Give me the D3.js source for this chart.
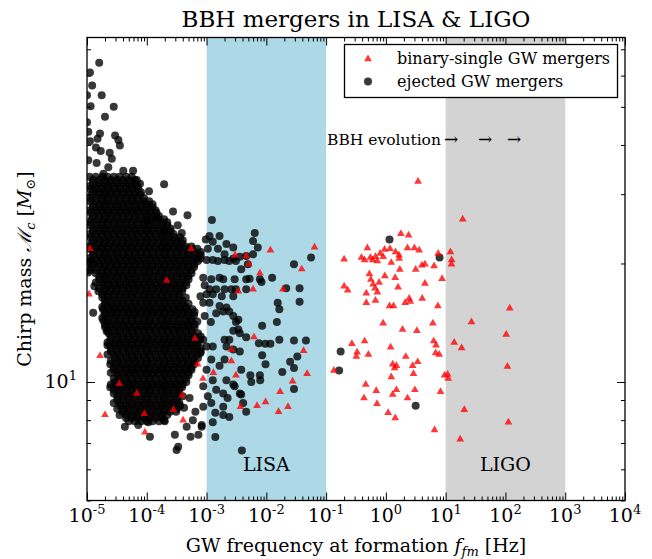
<!DOCTYPE html>
<html>
<head>
<meta charset="utf-8">
<script src="https://cdn.jsdelivr.net/npm/d3@7"></script>
<style>
  body { margin: 0; background: #fff; }
  svg { display: block; font-family: "DejaVu Serif", serif; }
</style>
</head>
<body>
<div id="chart"></div>
<script>
// ejected GW mergers, dense part: [chirp mass, [frequencies (Hz)]]
const ejectedCore = [
  [33.2, [1.1e-5,1.4e-5,1.8e-5,2.2e-5,2.8e-5,3.5e-5,4.5e-5,5.6e-5]],
  [32.6, [1.25e-5,1.6e-5,2e-5,2.5e-5,3.2e-5,4e-5,5e-5,6.3e-5]],
  [32.0, [1.25e-5,1.6e-5,2e-5,2.5e-5,3.2e-5,4e-5,5e-5,6.3e-5]],
  [31.45, [1.1e-5,1.4e-5,1.8e-5,2.2e-5,2.8e-5,3.5e-5,4.5e-5,5.6e-5,7e-5]],
  [30.9, [1.15e-5,1.45e-5,1.85e-5,2.3e-5,2.9e-5,3.6e-5,4.6e-5,5.8e-5,7.2e-5]],
  [30.35, [1.25e-5,1.6e-5,2e-5,2.5e-5,3.2e-5,4e-5,5e-5,6.3e-5,8e-5]],
  [29.9, [1.2e-5,1.55e-5,1.95e-5,2.45e-5,3.1e-5,3.9e-5,4.9e-5,6.2e-5,7.8e-5]],
  [29.35, [1.1e-5,1.4e-5,1.8e-5,2.2e-5,2.8e-5,3.5e-5,4.5e-5,5.6e-5,7e-5,9e-5]],
  [28.8, [1.1e-5,1.4e-5,1.8e-5,2.2e-5,2.8e-5,3.5e-5,4.5e-5,5.6e-5,7e-5,9e-5,1.1e-4]],
  [28.3, [1.25e-5,1.6e-5,2e-5,2.5e-5,3.2e-5,4e-5,5e-5,6.3e-5,8e-5,1e-4,1.25e-4]],
  [27.8, [1.25e-5,1.6e-5,2e-5,2.5e-5,3.2e-5,4e-5,5e-5,6.3e-5,8e-5,1e-4,1.25e-4]],
  [27.3, [1.1e-5,1.4e-5,1.8e-5,2.2e-5,2.8e-5,3.5e-5,4.5e-5,5.6e-5,7e-5,9e-5,1.1e-4,1.4e-4]],
  [26.9, [1.15e-5,1.45e-5,1.85e-5,2.3e-5,2.9e-5,3.6e-5,4.6e-5,5.8e-5,7.2e-5,9.2e-5,1.15e-4,1.45e-4]],
  [26.4, [1.25e-5,1.6e-5,2e-5,2.5e-5,3.2e-5,4e-5,5e-5,6.3e-5,8e-5,1e-4,1.25e-4,1.6e-4]],
  [25.9, [1.2e-5,1.55e-5,1.95e-5,2.45e-5,3.1e-5,3.9e-5,4.9e-5,6.2e-5,7.8e-5,9.8e-5,1.2e-4,1.55e-4,1.95e-4]],
  [25.45, [1.1e-5,1.4e-5,1.8e-5,2.2e-5,2.8e-5,3.5e-5,4.5e-5,5.6e-5,7e-5,9e-5,1.1e-4,1.4e-4,1.8e-4,2.2e-4]],
  [25.0, [1.1e-5,1.4e-5,1.8e-5,2.2e-5,2.8e-5,3.5e-5,4.5e-5,5.6e-5,7e-5,9e-5,1.1e-4,1.4e-4,1.8e-4,2.2e-4]],
  [24.55, [1.25e-5,1.6e-5,2e-5,2.5e-5,3.2e-5,4e-5,5e-5,6.3e-5,8e-5,1e-4,1.25e-4,1.6e-4,2e-4,2.5e-4]],
  [24.2, [1.25e-5,1.6e-5,2e-5,2.5e-5,3.2e-5,4e-5,5e-5,6.3e-5,8e-5,1e-4,1.25e-4,1.6e-4,2e-4,2.5e-4]],
  [23.75, [1.1e-5,1.4e-5,1.8e-5,2.2e-5,2.8e-5,3.5e-5,4.5e-5,5.6e-5,7e-5,9e-5,1.1e-4,1.4e-4,1.8e-4,2.2e-4,2.8e-4]],
  [23.3, [1.15e-5,1.45e-5,1.85e-5,2.3e-5,2.9e-5,3.6e-5,4.6e-5,5.8e-5,7.2e-5,9.2e-5,1.15e-4,1.45e-4,1.85e-4,2.3e-4,2.9e-4,3.6e-4]],
  [22.9, [1.25e-5,1.6e-5,2e-5,2.5e-5,3.2e-5,4e-5,5e-5,6.3e-5,8e-5,1e-4,1.25e-4,1.6e-4,2e-4,2.5e-4,3.2e-4,4e-4]],
  [22.5, [1.2e-5,1.55e-5,1.95e-5,2.45e-5,3.1e-5,3.9e-5,4.9e-5,6.2e-5,7.8e-5,9.8e-5,1.2e-4,1.55e-4,1.95e-4,2.45e-4,3.1e-4,3.9e-4]],
  [22.1, [1.1e-5,1.4e-5,1.8e-5,2.2e-5,2.8e-5,3.5e-5,4.5e-5,5.6e-5,7e-5,9e-5,1.1e-4,1.4e-4,1.8e-4,2.2e-4,2.8e-4,3.5e-4,4.5e-4,5.6e-4]],
  [21.8, [1.1e-5,1.4e-5,1.8e-5,2.2e-5,2.8e-5,3.5e-5,4.5e-5,5.6e-5,7e-5,9e-5,1.1e-4,1.4e-4,1.8e-4,2.2e-4,2.8e-4,3.5e-4,4.5e-4,5.6e-4,7e-4]],
  [21.4, [1.25e-5,1.6e-5,2e-5,2.5e-5,3.2e-5,4e-5,5e-5,6.3e-5,8e-5,1e-4,1.25e-4,1.6e-4,2e-4,2.5e-4,3.2e-4,4e-4,5e-4,6.3e-4,8e-4]],
  [21.0, [1.25e-5,1.6e-5,2e-5,2.5e-5,3.2e-5,4e-5,5e-5,6.3e-5,8e-5,1e-4,1.25e-4,1.6e-4,2e-4,2.5e-4,3.2e-4,4e-4,5e-4,6.3e-4,8e-4]],
  [20.65, [1.1e-5,1.4e-5,1.8e-5,2.2e-5,2.8e-5,3.5e-5,4.5e-5,5.6e-5,7e-5,9e-5,1.1e-4,1.4e-4,1.8e-4,2.2e-4,2.8e-4,3.5e-4,4.5e-4,5.6e-4,7e-4]],
  [20.3, [1.15e-5,1.45e-5,1.85e-5,2.3e-5,2.9e-5,3.6e-5,4.6e-5,5.8e-5,7.2e-5,9.2e-5,1.15e-4,1.45e-4,1.85e-4,2.3e-4,2.9e-4,3.6e-4,4.6e-4,5.8e-4,7.2e-4]],
  [19.95, [1.25e-5,1.6e-5,2e-5,2.5e-5,3.2e-5,4e-5,5e-5,6.3e-5,8e-5,1e-4,1.25e-4,1.6e-4,2e-4,2.5e-4,3.2e-4,4e-4,5e-4,6.3e-4]],
  [19.6, [1.2e-5,1.55e-5,1.95e-5,2.45e-5,3.1e-5,3.9e-5,4.9e-5,6.2e-5,7.8e-5,9.8e-5,1.2e-4,1.55e-4,1.95e-4,2.45e-4,3.1e-4,3.9e-4,4.9e-4,6.2e-4]],
  [19.25, [1.1e-5,1.4e-5,1.8e-5,2.2e-5,2.8e-5,3.5e-5,4.5e-5,5.6e-5,7e-5,9e-5,1.1e-4,1.4e-4,1.8e-4,2.2e-4,2.8e-4,3.5e-4,4.5e-4,5.6e-4]],
  [18.9, [1.4e-5,1.8e-5,2.2e-5,2.8e-5,3.5e-5,4.5e-5,5.6e-5,7e-5,9e-5,1.1e-4,1.4e-4,1.8e-4,2.2e-4,2.8e-4,3.5e-4,4.5e-4,5.6e-4]],
  [18.55, [1.6e-5,2e-5,2.5e-5,3.2e-5,4e-5,5e-5,6.3e-5,8e-5,1e-4,1.25e-4,1.6e-4,2e-4,2.5e-4,3.2e-4,4e-4,5e-4]],
  [18.2, [1.6e-5,2e-5,2.5e-5,3.2e-5,4e-5,5e-5,6.3e-5,8e-5,1e-4,1.25e-4,1.6e-4,2e-4,2.5e-4,3.2e-4,4e-4,5e-4]],
  [17.9, [1.4e-5,1.8e-5,2.2e-5,2.8e-5,3.5e-5,4.5e-5,5.6e-5,7e-5,9e-5,1.1e-4,1.4e-4,1.8e-4,2.2e-4,2.8e-4,3.5e-4,4.5e-4]],
  [17.6, [1.85e-5,2.3e-5,2.9e-5,3.6e-5,4.6e-5,5.8e-5,7.2e-5,9.2e-5,1.15e-4,1.45e-4,1.85e-4,2.3e-4,2.9e-4,3.6e-4,4.6e-4]],
  [17.3, [1.6e-5,2e-5,2.5e-5,3.2e-5,4e-5,5e-5,6.3e-5,8e-5,1e-4,1.25e-4,1.6e-4,2e-4,2.5e-4,3.2e-4,4e-4]],
  [17.0, [1.55e-5,1.95e-5,2.45e-5,3.1e-5,3.9e-5,4.9e-5,6.2e-5,7.8e-5,9.8e-5,1.2e-4,1.55e-4,1.95e-4,2.45e-4,3.1e-4,3.9e-4]],
  [16.7, [1.8e-5,2.2e-5,2.8e-5,3.5e-5,4.5e-5,5.6e-5,7e-5,9e-5,1.1e-4,1.4e-4,1.8e-4,2.2e-4,2.8e-4,3.5e-4]],
  [16.4, [1.8e-5,2.2e-5,2.8e-5,3.5e-5,4.5e-5,5.6e-5,7e-5,9e-5,1.1e-4,1.4e-4,1.8e-4,2.2e-4,2.8e-4,3.5e-4,4.5e-4]],
  [16.1, [2e-5,2.5e-5,3.2e-5,4e-5,5e-5,6.3e-5,8e-5,1e-4,1.25e-4,1.6e-4,2e-4,2.5e-4,3.2e-4,4e-4]],
  [15.8, [2e-5,2.5e-5,3.2e-5,4e-5,5e-5,6.3e-5,8e-5,1e-4,1.25e-4,1.6e-4,2e-4,2.5e-4,3.2e-4,4e-4,5e-4]],
  [15.5, [1.8e-5,2.2e-5,2.8e-5,3.5e-5,4.5e-5,5.6e-5,7e-5,9e-5,1.1e-4,1.4e-4,1.8e-4,2.2e-4,2.8e-4,3.5e-4,4.5e-4]],
  [15.3, [1.85e-5,2.3e-5,2.9e-5,3.6e-5,4.6e-5,5.8e-5,7.2e-5,9.2e-5,1.15e-4,1.45e-4,1.85e-4,2.3e-4,2.9e-4,3.6e-4,4.6e-4,5.8e-4]],
  [15.05, [2e-5,2.5e-5,3.2e-5,4e-5,5e-5,6.3e-5,8e-5,1e-4,1.25e-4,1.6e-4,2e-4,2.5e-4,3.2e-4,4e-4,5e-4,6.3e-4]],
  [14.8, [1.95e-5,2.45e-5,3.1e-5,3.9e-5,4.9e-5,6.2e-5,7.8e-5,9.8e-5,1.2e-4,1.55e-4,1.95e-4,2.45e-4,3.1e-4,3.9e-4,4.9e-4,6.2e-4]],
  [14.55, [1.8e-5,2.2e-5,2.8e-5,3.5e-5,4.5e-5,5.6e-5,7e-5,9e-5,1.1e-4,1.4e-4,1.8e-4,2.2e-4,2.8e-4,3.5e-4,4.5e-4,5.6e-4]],
  [14.25, [2.2e-5,2.8e-5,3.5e-5,4.5e-5,5.6e-5,7e-5,9e-5,1.1e-4,1.4e-4,1.8e-4,2.2e-4,2.8e-4,3.5e-4,4.5e-4,5.6e-4,7e-4]],
  [14.0, [2e-5,2.5e-5,3.2e-5,4e-5,5e-5,6.3e-5,8e-5,1e-4,1.25e-4,1.6e-4,2e-4,2.5e-4,3.2e-4,4e-4,5e-4,6.3e-4]],
  [13.8, [2e-5,2.5e-5,3.2e-5,4e-5,5e-5,6.3e-5,8e-5,1e-4,1.25e-4,1.6e-4,2e-4,2.5e-4,3.2e-4,4e-4,5e-4,6.3e-4]],
  [13.55, [2.2e-5,2.8e-5,3.5e-5,4.5e-5,5.6e-5,7e-5,9e-5,1.1e-4,1.4e-4,1.8e-4,2.2e-4,2.8e-4,3.5e-4,4.5e-4,5.6e-4]],
  [13.3, [2.3e-5,2.9e-5,3.6e-5,4.6e-5,5.8e-5,7.2e-5,9.2e-5,1.15e-4,1.45e-4,1.85e-4,2.3e-4,2.9e-4,3.6e-4,4.6e-4,5.8e-4,7.2e-4]],
  [13.05, [2.5e-5,3.2e-5,4e-5,5e-5,6.3e-5,8e-5,1e-4,1.25e-4,1.6e-4,2e-4,2.5e-4,3.2e-4,4e-4,5e-4,6.3e-4,8e-4]],
  [12.8, [2.45e-5,3.1e-5,3.9e-5,4.9e-5,6.2e-5,7.8e-5,9.8e-5,1.2e-4,1.55e-4,1.95e-4,2.45e-4,3.1e-4,3.9e-4,4.9e-4,6.2e-4,7.8e-4]],
  [12.6, [2.2e-5,2.8e-5,3.5e-5,4.5e-5,5.6e-5,7e-5,9e-5,1.1e-4,1.4e-4,1.8e-4,2.2e-4,2.8e-4,3.5e-4,4.5e-4,5.6e-4,7e-4]],
  [12.4, [2.2e-5,2.8e-5,3.5e-5,4.5e-5,5.6e-5,7e-5,9e-5,1.1e-4,1.4e-4,1.8e-4,2.2e-4,2.8e-4,3.5e-4,4.5e-4,5.6e-4,7e-4]],
  [12.2, [2.5e-5,3.2e-5,4e-5,5e-5,6.3e-5,8e-5,1e-4,1.25e-4,1.6e-4,2e-4,2.5e-4,3.2e-4,4e-4,5e-4,6.3e-4,8e-4]],
  [11.95, [2.5e-5,3.2e-5,4e-5,5e-5,6.3e-5,8e-5,1e-4,1.25e-4,1.6e-4,2e-4,2.5e-4,3.2e-4,4e-4,5e-4,6.3e-4,8e-4]],
  [11.75, [2.2e-5,2.8e-5,3.5e-5,4.5e-5,5.6e-5,7e-5,9e-5,1.1e-4,1.4e-4,1.8e-4,2.2e-4,2.8e-4,3.5e-4,4.5e-4,5.6e-4,7e-4]],
  [11.5, [2.9e-5,3.6e-5,4.6e-5,5.8e-5,7.2e-5,9.2e-5,1.15e-4,1.45e-4,1.85e-4,2.3e-4,2.9e-4,3.6e-4,4.6e-4,5.8e-4,7.2e-4]],
  [11.3, [2.5e-5,3.2e-5,4e-5,5e-5,6.3e-5,8e-5,1e-4,1.25e-4,1.6e-4,2e-4,2.5e-4,3.2e-4,4e-4,5e-4,6.3e-4]],
  [11.1, [2.45e-5,3.1e-5,3.9e-5,4.9e-5,6.2e-5,7.8e-5,9.8e-5,1.2e-4,1.55e-4,1.95e-4,2.45e-4,3.1e-4,3.9e-4,4.9e-4,6.2e-4]],
  [10.9, [2.8e-5,3.5e-5,4.5e-5,5.6e-5,7e-5,9e-5,1.1e-4,1.4e-4,1.8e-4,2.2e-4,2.8e-4,3.5e-4,4.5e-4,5.6e-4]],
  [10.75, [2.8e-5,3.5e-5,4.5e-5,5.6e-5,7e-5,9e-5,1.1e-4,1.4e-4,1.8e-4,2.2e-4,2.8e-4,3.5e-4,4.5e-4,5.6e-4]],
  [10.55, [2.5e-5,3.2e-5,4e-5,5e-5,6.3e-5,8e-5,1e-4,1.25e-4,1.6e-4,2e-4,2.5e-4,3.2e-4,4e-4,5e-4]],
  [10.4, [3.2e-5,4e-5,5e-5,6.3e-5,8e-5,1e-4,1.25e-4,1.6e-4,2e-4,2.5e-4,3.2e-4,4e-4,5e-4]],
  [10.2, [2.8e-5,3.5e-5,4.5e-5,5.6e-5,7e-5,9e-5,1.1e-4,1.4e-4,1.8e-4,2.2e-4,2.8e-4,3.5e-4,4.5e-4]],
  [10.0, [2.9e-5,3.6e-5,4.6e-5,5.8e-5,7.2e-5,9.2e-5,1.15e-4,1.45e-4,1.85e-4,2.3e-4,2.9e-4,3.6e-4,4.6e-4]],
  [9.85, [2.5e-5,3.2e-5,4e-5,5e-5,6.3e-5,8e-5,1e-4,1.25e-4,1.6e-4,2e-4,2.5e-4,3.2e-4,4e-4]],
  [9.7, [2.45e-5,3.1e-5,3.9e-5,4.9e-5,6.2e-5,7.8e-5,9.8e-5,1.2e-4,1.55e-4,1.95e-4,2.45e-4,3.1e-4,3.9e-4]],
  [9.55, [2.8e-5,3.5e-5,4.5e-5,5.6e-5,7e-5,9e-5,1.1e-4,1.4e-4,1.8e-4,2.2e-4,2.8e-4,3.5e-4]],
  [9.35, [2.8e-5,3.5e-5,4.5e-5,5.6e-5,7e-5,9e-5,1.1e-4,1.4e-4,1.8e-4,2.2e-4,2.8e-4,3.5e-4]],
  [9.2, [3.2e-5,4e-5,5e-5,6.3e-5,8e-5,1e-4,1.25e-4,1.6e-4,2e-4,2.5e-4,3.2e-4,4e-4]],
  [9.0, [3.2e-5,4e-5,5e-5,6.3e-5,8e-5,1e-4,1.25e-4,1.6e-4,2e-4,2.5e-4,3.2e-4]],
  [8.85, [2.8e-5,3.5e-5,4.5e-5,5.6e-5,7e-5,9e-5,1.1e-4,1.4e-4,1.8e-4,2.2e-4,2.8e-4,3.5e-4]],
  [8.7, [3.6e-5,4.6e-5,5.8e-5,7.2e-5,9.2e-5,1.15e-4,1.45e-4,1.85e-4,2.3e-4,2.9e-4,3.6e-4]],
  [8.55, [3.2e-5,4e-5,5e-5,6.3e-5,8e-5,1e-4,1.25e-4,1.6e-4,2e-4,2.5e-4,3.2e-4]],
  [8.4, [3.9e-5,4.9e-5,6.2e-5,7.8e-5,9.8e-5,1.2e-4,1.55e-4,1.95e-4,2.45e-4,3.1e-4]],
  [8.25, [3.5e-5,4.5e-5,5.6e-5,7e-5,9e-5,1.1e-4,1.4e-4,1.8e-4,2.2e-4]],
  [8.1, [4.5e-5,5.6e-5,7e-5,9e-5,1.1e-4,1.4e-4,1.8e-4]],
  [7.95, [5e-5,6.3e-5,8e-5,1e-4,1.25e-4,1.6e-4,2e-4]]
];

// ejected GW mergers, scattered part: [frequency (Hz), chirp mass]
const ejectedOuter = [
  [1.6e-5,64.7],[1.12e-5,61.1],[1.22e-5,56.6],[1.76e-5,53.5],[1.0e-5,53.5],[1.15e-5,50.2],
  [2.8e-5,50.0],[2.0e-5,47.2],[1.0e-5,45.7],[1.05e-5,43.2],[1.12e-5,40.9],[1.65e-5,42.8],
  [1.5e-5,41.5],[2.95e-5,42.3],[3.35e-5,41.2],[3.55e-5,39.9],[1.7e-5,38.6],[1.41e-5,39.4],
  [2.4e-5,38.2],[2.6e-5,36.9],[1.05e-5,36.6],[1.45e-5,36.0],[2.27e-5,35.1],[5.9e-5,34.4],
  [4.05e-5,34.4],[6.8e-5,32.6],[7.7e-5,31.9],[1.09e-4,30.5],[1.95e-4,31.8],[1.88e-5,33.8],
  [2.75e-4,27.1],[4.8e-4,26.5],[1.46e-4,26.2],[1.0e-4,25.7],[3.3e-4,25.0],[3.85e-4,23.9],
  [1.95e-4,24.0],
  [4.3e-5,7.7],[7.2e-5,7.78],[1.13e-4,7.26],[1.06e-4,7.9],[3.15e-4,6.72],[3.35e-4,6.85],
  [1.95e-4,8.0],[2.95e-4,7.34],[4.65e-4,7.7],[7.3e-4,7.34],[5.4e-4,7.26],[8.3e-4,7.78],
  [5.9e-4,8.0],[4.2e-4,8.6],[5.2e-4,9.1],[6.5e-4,8.4],
  [1.33e-5,17.5],[1.27e-5,15.0],[1.88e-5,14.3],[2.13e-5,13.45],[2.4e-5,12.45],[1.05e-5,18.96],
  [1.08e-5,20.1],
  [1.23e-3,25.8],[6.4e-3,23.9],[6.0e-3,22.8],[7.2e-3,21.95],[5.6e-2,20.7],[2.9e-2,19.9],
  [1.25e-2,18.4],[2.15e-2,17.3],[3.6e-2,17.3],[3.6e-2,16.0],[1.55e-2,15.9],[1.65e-2,15.3],
  [1.5e-2,14.2],[8.5e-3,13.9],[2.9e-2,12.75],[4.6e-2,12.75],[1.65e-2,12.8],[1.17e-2,12.5],
  [9.6e-3,12.5],[7.5e-3,12.55],[8.5e-3,11.7],[9.7e-3,11.1],[3.3e-2,11.6],[2.5e-2,11.25],
  [2.9e-2,10.85],[1.85e-2,10.6],[2.9e-2,9.6],[7.8e-3,10.4],[5.4e-3,10.4],[5.6e-3,10.0],
  [7.9e-3,10.1],[4.6e-3,8.4],[3.8e-3,9.3],[3.9e-3,6.7],
  [1.15,23.0],[7.9,20.7],[0.175,11.95],[0.165,10.7],[3.15,8.7],
  [9.7e-4,23.0],[1.12e-3,23.5],[1.27e-3,22.7],[1.65e-3,23.5],[2.15e-3,22.4],[2.8e-3,21.95],
  [1.05e-3,21.8],[1.55e-3,21.8],[2.0e-3,21.1],[2.8e-3,20.6],[3.6e-3,20.8],[4.6e-3,20.9],
  [6.0e-3,21.1],[7.9e-4,20.6],[1.0e-3,20.4],[1.27e-3,20.4],[1.55e-3,20.3],[2.0e-3,20.4],
  [2.4e-3,20.3],[3.1e-3,20.3],[3.8e-3,19.35],[4.9e-3,19.9],[8.8e-4,18.4],[1.2e-3,18.25],
  [1.65e-3,18.4],[1.9e-3,18.25],[2.95e-3,18.25],[4.6e-3,18.25],[5.25e-3,18.3],[7.8e-3,18.25],
  [8.3e-3,17.95],[9.3e-4,17.6],[1.12e-3,17.2],[1.45e-3,17.2],[2.0e-3,17.2],[2.6e-3,17.2],
  [3.1e-3,17.2],[4.6e-3,17.2],[7.9e-4,16.5],[1.0e-3,16.7],[1.27e-3,16.7],[1.8e-3,16.5],
  [2.8e-3,16.5],[8.8e-4,15.9],[1.12e-3,15.9],[1.65e-3,15.6],[2.15e-3,15.45],[1.45e-3,14.95],
  [1.9e-3,15.1],[2.4e-3,15.1],[2.8e-3,14.7],[3.4e-3,14.4],[9.3e-4,14.7],[1.18e-3,14.2],
  [3.1e-3,14.2],[3.4e-3,13.6],[2.8e-3,13.5],[3.6e-3,13.3],[4.6e-3,13.0],[2.0e-3,12.8],
  [2.4e-3,12.8],[2.15e-3,12.3],[8.8e-4,12.8],[1.0e-3,12.3],[1.27e-3,12.3],[2.8e-3,12.1],
  [3.6e-3,11.95],[7.9e-4,11.85],[1.2e-3,11.4],[2.0e-3,11.4],[1.65e-3,11.0],[3.8e-3,10.75],
  [1.0e-3,10.75],[1.27e-3,10.1],[2.15e-3,10.1],[2.8e-3,9.85],[8.8e-4,9.75],[1.45e-3,9.55],
  [1.9e-3,9.35],[2.95e-3,9.75],[3.6e-3,9.35],[1.05e-3,9.2],[2.25e-3,9.1],[8.8e-4,8.65],
  [1.2e-3,8.85],[1.9e-3,8.65],[4.1e-3,8.85],[1.4e-3,8.35],[1.9e-3,8.25],[2.4e-3,8.15],
  [1.27e-3,7.9],[8.3e-4,7.7],[1.4e-3,7.25]
];

// binary-single GW mergers: [frequency (Hz), chirp mass]
const binarySingle = [
  [3.45,32.3],[19.3,25.9],[1.78,23.8],[2.4,23.6],[0.49,21.9],[2.3,21.9],[3.0,21.9],[3.6,21.6],
  [0.95,21.7],[1.17,21.8],[1.45,21.4],[0.8,21.2],[1.66,21.0],[0.39,20.7],[0.55,20.7],[0.67,20.8],
  [0.9,20.8],[0.44,20.4],[0.2,20.5],[0.6,20.4],[0.72,20.3],[1.67,20.6],[1.23,20.1],[7.5,21.2],
  [12.0,21.4],[12.6,20.4],[12.5,19.9],[4.5,19.9],[4.0,19.8],[6.4,19.7],[3.15,19.3],[1.71,19.3],
  [0.53,18.8],[0.96,18.6],[0.56,18.2],[1.43,18.4],[8.7,18.3],[0.77,17.9],[0.61,17.7],[4.5,17.8],
  [1.6,17.4],[0.2,17.5],[0.23,17.1],[0.66,17.3],[0.72,16.9],[0.47,16.8],[0.67,16.1],[0.47,15.9],
  [2.45,16.3],[2.55,16.0],[2.1,15.9],[4.05,16.3],[1.15,15.6],[1.34,15.6],[7.4,15.6],[118,15.4],
  [27,14.2],[0.9,14.1],[6.1,14.1],[1.9,13.6],[3.3,13.5],[103,13.2],[0.44,12.7],[0.27,12.5],
  [6.3,12.7],[6.9,12.4],[13.9,12.6],[18.5,12.2],[1.2,12.25],[0.33,11.9],[0.32,11.6],[0.51,11.75],
  [6.8,11.85],[7.8,11.75],[2.15,11.6],[3.4,11.25],[2.8,11.0],[1.3,11.1],[1.5,11.0],[1.4,10.85],
  [108,10.95],[0.135,10.7],[2.9,10.5],[9.6,10.4],[10.8,10.45],[11.0,10.2],[1.23,10.3],[0.46,9.85],
  [0.69,9.5],[1.5,9.55],[1.3,9.3],[3.05,9.55],[8.2,9.45],[0.43,9.1],[2.3,9.1],[0.71,8.8],
  [20.5,8.5],[1.09,8.35],[1.43,8.1],[112,7.9],[6.5,7.55],[17.5,7.15],
  [1.17e-2,21.6],[6.4e-2,22.0],[3.9e-2,19.35],[5.1e-3,19.95],[7.8e-3,18.9],[3.0e-3,21.0],
  [4.6e-3,20.9],[1.9e-2,17.2],[6.0e-3,17.2],[3.4e-3,17.0],[6.2e-3,13.0],[4.2e-2,12.0],
  [2.6e-3,11.3],[3.1e-3,10.4],[4.8e-2,10.5],[2.75e-2,10.05],[1.7e-2,9.45],[9.7e-3,8.9],
  [7.0e-3,8.7],[3.7e-3,8.65],[2.3e-2,8.65],[1.6e-2,8.4],[2.6e-3,12.1],[1.3e-3,10.55],
  [8.7e-4,10.2],
  [1.08e-5,16.7],[1.65e-5,11.65],[2.0e-5,8.25],[3.45e-5,9.9],[9.3e-5,7.45],[3.9e-4,9.25],
  [2.8e-4,8.5],[4.05e-4,8.0],[9.1e-5,8.3],[6.8e-5,9.35],[2.15e-4,18.1],[7.1e-4,11.1],
  [6.4e-4,12.9],[1.12e-5,21.8],[5.5e-4,21.8]
];

// detector bands [from, to] in Hz
const bandNames = ['LISA', 'LIGO'];
const bandRanges = [[1e-3, 1e-1], [10, 1e3]];

const xTickExponents = [-5, -4, -3, -2, -1, 0, 1, 2, 3, 4];
const yMajorTicks = [10];
const yMinorTicks = [5, 6, 7, 8, 9, 20, 30, 40, 50, 60, 70];
const legendLabels = ['binary-single GW mergers', 'ejected GW mergers'];

const width = 652;
const height = 559;
const plot = {left: 87, right: 625, top: 37.5, bottom: 500.5};

const svg = d3.select('#chart').append('svg')
  .attr('width', width)
  .attr('height', height);

svg.append('rect').attr('width', width).attr('height', height).attr('fill', '#fff');

const x = d3.scaleLog().domain([1e-5, 1e4]).range([plot.left, plot.right]);
const y = d3.scaleLog().domain([5, 75]).range([plot.bottom, plot.top]);

svg.append('defs').append('clipPath').attr('id', 'plot-clip')
  .append('rect')
  .attr('x', plot.left).attr('y', plot.top)
  .attr('width', plot.right - plot.left)
  .attr('height', plot.bottom - plot.top);

// bands
const bandColors = ['#add8e6', '#d3d3d3'];
svg.append('g').selectAll('rect')
  .data(bandRanges)
  .join('rect')
  .attr('x', d => x(d[0]))
  .attr('y', plot.top)
  .attr('width', d => x(d[1]) - x(d[0]))
  .attr('height', plot.bottom - plot.top)
  .attr('fill', (d, i) => bandColors[i]);

// points
const ejected = ejectedCore
  .flatMap(([m, fs]) => fs.map(f => [f, m]))
  .concat(ejectedOuter);

const marks = svg.append('g').attr('clip-path', 'url(#plot-clip)');

marks.append('g').selectAll('circle')
  .data(ejected)
  .join('circle')
  .attr('cx', d => x(d[0]))
  .attr('cy', d => y(d[1]))
  .attr('r', 4)
  .attr('fill', '#000')
  .attr('fill-opacity', 0.78);

const tri = d3.symbol().type(d3.symbolTriangle).size(26);
marks.append('g').selectAll('path')
  .data(binarySingle)
  .join('path')
  .attr('d', tri)
  .attr('transform', d => `translate(${x(d[0])},${y(d[1])})`)
  .attr('fill', '#ff0000')
  .attr('fill-opacity', 0.78);

// band labels
svg.append('g').selectAll('text')
  .data(bandNames)
  .join('text')
  .attr('x', (d, i) => x(Math.sqrt(bandRanges[i][0] * bandRanges[i][1])))
  .attr('y', 471)
  .attr('text-anchor', 'middle')
  .attr('font-size', 19)
  .text(d => d);

// ticks (inward, on all four sides)
const xMajor = xTickExponents.map(e => Math.pow(10, e));
const xMinor = [];
xTickExponents.slice(0, -1).forEach(e => {
  for (let k = 2; k <= 9; k++) xMinor.push(k * Math.pow(10, e));
});

function ticks(axis, values, size, transform) {
  svg.append('g')
    .attr('transform', transform)
    .call(axis.tickValues(values).tickSize(-size).tickSizeOuter(0).tickFormat(''))
    .call(g => g.select('.domain').remove())
    .call(g => g.selectAll('line').attr('stroke', '#000').attr('stroke-width', 1));
}
ticks(d3.axisBottom(x), xMajor, 8, `translate(0,${plot.bottom})`);
ticks(d3.axisBottom(x), xMinor, 4, `translate(0,${plot.bottom})`);
ticks(d3.axisTop(x), xMajor, 8, `translate(0,${plot.top})`);
ticks(d3.axisTop(x), xMinor, 4, `translate(0,${plot.top})`);
ticks(d3.axisLeft(y), yMajorTicks, 8, `translate(${plot.left},0)`);
ticks(d3.axisLeft(y), yMinorTicks, 4, `translate(${plot.left},0)`);
ticks(d3.axisRight(y), yMajorTicks, 8, `translate(${plot.right},0)`);
ticks(d3.axisRight(y), yMinorTicks, 4, `translate(${plot.right},0)`);

// frame
svg.append('rect')
  .attr('x', plot.left).attr('y', plot.top)
  .attr('width', plot.right - plot.left)
  .attr('height', plot.bottom - plot.top)
  .attr('fill', 'none')
  .attr('stroke', '#000')
  .attr('stroke-width', 1.3);

// tick labels
const xLabels = svg.append('g').selectAll('text')
  .data(xTickExponents)
  .join('text')
  .attr('x', d => x(Math.pow(10, d)))
  .attr('y', 522)
  .attr('text-anchor', 'middle')
  .attr('font-size', 19);
xLabels.append('tspan').text('10');
xLabels.append('tspan').attr('dy', -8).attr('font-size', 13).text(d => String(d));

const yLabels = svg.append('g').selectAll('text')
  .data(yMajorTicks)
  .join('text')
  .attr('x', 77)
  .attr('y', d => y(d) + 6.5)
  .attr('text-anchor', 'end')
  .attr('font-size', 19);
yLabels.append('tspan').text('10');
yLabels.append('tspan').attr('dy', -8).attr('font-size', 13).text(d => String(Math.log10(d)));

// title and axis labels
svg.append('text')
  .attr('x', (plot.left + plot.right) / 2)
  .attr('y', 27)
  .attr('text-anchor', 'middle')
  .attr('font-size', 23)
  .text('BBH mergers in LISA & LIGO');

const xTitle = svg.append('text')
  .attr('x', (plot.left + plot.right) / 2)
  .attr('y', 552)
  .attr('text-anchor', 'middle')
  .attr('font-size', 19);
xTitle.append('tspan').text('GW frequency at formation ');
xTitle.append('tspan').attr('font-style', 'italic').text('f');
xTitle.append('tspan').attr('font-style', 'italic').attr('font-size', 13).attr('dy', 4).text('fm');
xTitle.append('tspan').attr('dy', -4).text(' [Hz]');

const yTitle = svg.append('text')
  .attr('transform', `translate(31,${(plot.top + plot.bottom) / 2}) rotate(-90)`)
  .attr('text-anchor', 'middle')
  .attr('font-size', 19);
yTitle.append('tspan').text('Chirp mass ');
yTitle.append('tspan').attr('font-style', 'italic').text('\u2133');
yTitle.append('tspan').attr('font-style', 'italic').attr('font-size', 13).attr('dy', 4).text('c');
yTitle.append('tspan').attr('dy', -4).text(' [');
yTitle.append('tspan').attr('font-style', 'italic').text('M');
yTitle.append('tspan').attr('font-size', 13).attr('dy', 4).text('\u2299');
yTitle.append('tspan').attr('dy', -4).text(']');

// annotation
const note = svg.append('text').attr('y', 145).attr('font-size', 15.5);
note.append('tspan').attr('x', 327).text('BBH evolution');
[444, 478, 507].forEach(px => note.append('tspan').attr('x', px).attr('font-size', 17).text('\u2192'));

// legend
const legend = svg.append('g');
legend.append('rect')
  .attr('x', 344.5).attr('y', 44.5)
  .attr('width', 273).attr('height', 53)
  .attr('fill', '#fff')
  .attr('stroke', '#000')
  .attr('stroke-width', 1.3);
legend.append('path')
  .attr('d', tri)
  .attr('transform', 'translate(368,59)')
  .attr('fill', '#ff0000')
  .attr('fill-opacity', 0.78);
legend.append('circle')
  .attr('cx', 368).attr('cy', 81.5).attr('r', 4)
  .attr('fill', '#000').attr('fill-opacity', 0.78);
legend.selectAll('text')
  .data(legendLabels)
  .join('text')
  .attr('x', 397)
  .attr('y', (d, i) => 64 + i * 23)
  .attr('font-size', 16)
  .text(d => d);
</script>
</body>
</html>
